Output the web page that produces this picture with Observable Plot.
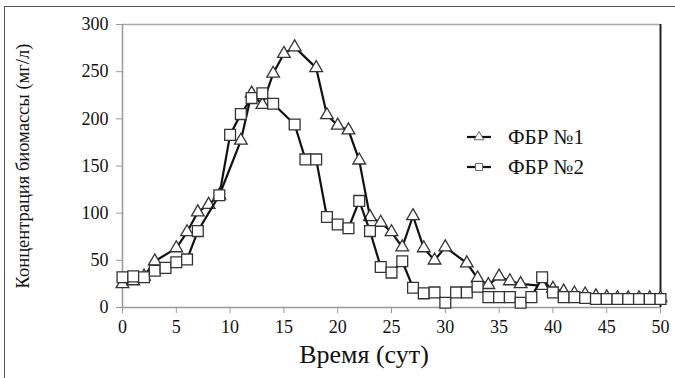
<!DOCTYPE html>
<html>
<head>
<meta charset="utf-8">
<script src="https://cdn.jsdelivr.net/npm/d3@7"></script>
<script src="https://cdn.jsdelivr.net/npm/@observablehq/plot@0.6"></script>
</head>
<body style="margin:0;padding:0;background:#fff">
<div id="wrap" style="position:relative;width:675px;height:378px;overflow:hidden;font-family:'Liberation Serif';color:#111">
  <div id="chart"></div>
  <div style="position:absolute;left:0px;width:728px;top:342px;text-align:center;font-family:'Liberation Serif';font-size:26px;line-height:1">Время (сут)</div>
  <div style="position:absolute;left:23px;top:166px;transform:translate(-50%,-50%) rotate(-90deg);white-space:nowrap;font-family:'Liberation Serif';font-size:18.5px;line-height:1">Концентрация биомассы (мг/л)</div>
  <div id="legend" style="position:absolute;left:466px;top:122px;font-family:'Liberation Serif';font-size:21px"></div>
  <div style="position:absolute;left:4px;top:6px;right:-2px;bottom:-2px;border-top:1.5px solid #555;border-left:1.5px solid #555;pointer-events:none"></div>
</div>
<script>
const seriesNames = ["ФБР №1", "ФБР №2"];
const days1 = [0,1,2,3,5,6,7,8,9,11,12,13,14,15,16,18,19,20,21,22,23,24,25,26,27,28,29,30,32,33,34,35,36,37,39,40,41,42,43,44,45,46,47,48,49,50];
const vals1 = [25,28,33,49,63,80,101,109,119,177,227,215,248,269,276,254,204,193,188,156,96,90,80,64,97,63,50,64,47,31,24,33,28,25,23,20,17,15,14,12,11,10,10,10,10,10];
const days2 = [0,1,2,3,4,5,6,7,9,10,11,12,13,14,16,17,18,19,20,21,22,23,24,25,26,27,28,29,30,31,32,33,34,35,36,37,38,39,40,41,42,43,44,45,46,47,48,49,50];
const vals2 = [32,33,32,39,42,48,51,81,119,183,205,222,227,216,194,157,157,96,88,84,113,81,43,37,49,21,15,16,5,16,16,22,11,11,11,5,11,32,16,11,11,10,9,9,9,9,9,9,9];
const xTicks = [0,5,10,15,20,25,30,35,40,45,50];
const yTicks = [0,50,100,150,200,250,300];

const s1 = days1.map((d, i) => ({day: d, value: vals1[i]}));
const s2 = days2.map((d, i) => ({day: d, value: vals2[i]}));

const plot = Plot.plot({
  width: 675,
  height: 378,
  marginLeft: 122,
  marginRight: 15,
  marginTop: 24,
  marginBottom: 71,
  style: {fontFamily: "Liberation Serif", fontSize: "18px", background: "transparent", color: "#111"},
  x: {domain: [0, 50], ticks: xTicks},
  y: {domain: [0, 300], ticks: yTicks},
  marks: [
    Plot.ruleY([300], {stroke: "#aaa", strokeWidth: 1.5}),
    Plot.ruleX([50], {stroke: "#222", strokeWidth: 2}),
    Plot.ruleX([0], {stroke: "#999", strokeWidth: 1.5}),
    Plot.ruleY([0], {stroke: "#999", strokeWidth: 1.5}),
    Plot.axisX({ticks: xTicks, tickSize: 6, tickPadding: 7, stroke: "#999", fill: "#111", fontSize: 18, fontFamily: "Liberation Serif", label: null}),
    Plot.axisY({ticks: yTicks, tickSize: 6, tickPadding: 8, stroke: "#999", fill: "#111", fontSize: 18, fontFamily: "Liberation Serif", label: null}),
    Plot.line(s1, {x: "day", y: "value", stroke: "#111", strokeWidth: 2.2}),
    Plot.dot(s1, {x: "day", y: "value", symbol: "triangle", r: 4.7, fill: "white", stroke: "#333", strokeWidth: 1.3}),
    Plot.line(s2, {x: "day", y: "value", stroke: "#111", strokeWidth: 2.2}),
    Plot.dot(s2, {x: "day", y: "value", symbol: "square", r: 6.1, fill: "white", stroke: "#333", strokeWidth: 1.3})
  ]
});
document.getElementById("chart").appendChild(plot);

const legend = document.getElementById("legend");
const symbols = [d3.symbolTriangle, d3.symbolSquare];
const sizes = [40, 50];
seriesNames.forEach((name, i) => {
  const row = document.createElement("div");
  row.style.cssText = "display:flex;align-items:center;height:30px";
  const svg = d3.create("svg").attr("width", 26).attr("height", 14).style("margin-right", "16px");
  svg.append("line").attr("x1", 1).attr("x2", 25).attr("y1", 7).attr("y2", 7).attr("stroke", "#111").attr("stroke-width", 2.2);
  svg.append("path").attr("d", d3.symbol(symbols[i], sizes[i])()).attr("transform", "translate(13,7)").attr("fill", "white").attr("stroke", "#666").attr("stroke-width", 1);
  row.appendChild(svg.node());
  const span = document.createElement("span");
  span.textContent = name;
  span.style.fontFamily = "Liberation Serif";
  row.appendChild(span);
  legend.appendChild(row);
});
</script>
</body>
</html>
